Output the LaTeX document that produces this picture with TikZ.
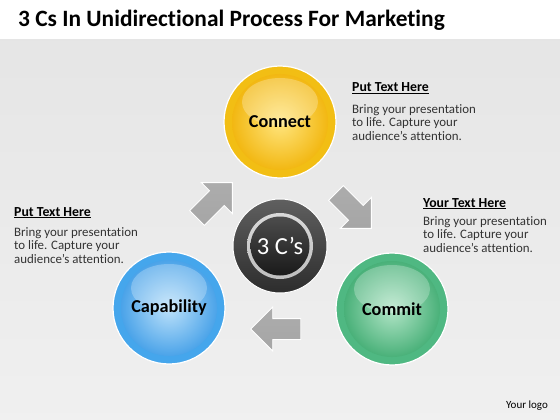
\documentclass[tikz,border=0pt]{standalone}
\usepackage{fontspec}
\setmainfont[Ligatures=NoCommon]{Carlito}
\usetikzlibrary{positioning, calc, shapes.arrows}
\tikzset{>=latex}

\definecolor{yelRim}{HTML}{F2BE14}
\definecolor{yelLt}{HTML}{FFE57E}
\definecolor{yelDk}{HTML}{F0B000}
\definecolor{grnRim}{HTML}{4FB882}
\definecolor{grnLt}{HTML}{B2E5C7}
\definecolor{grnDk}{HTML}{38A86C}
\definecolor{bluRim}{HTML}{45A6EC}
\definecolor{bluLt}{HTML}{BCE1FA}
\definecolor{bluDk}{HTML}{3899E6}
\definecolor{txtGray}{HTML}{333333}

\begin{document}
\begin{tikzpicture}
    [
        x=1pt, y=-1pt,
        ball/.style={circle, minimum size=112pt, inner sep=0pt, draw=white, line width=1.2pt, font=\bfseries\fontsize{18.2}{21}\selectfont},
        yel_ball/.style={ball, fill=yelRim, path picture={
            \shade[inner color=yelLt, outer color=yelDk] (path picture bounding box.center) circle (48pt);
            \fill[white, opacity=0.25] ($(path picture bounding box.center)+(0,-20)$) ellipse (38pt and 24pt);}},
        grn_ball/.style={ball, fill=grnRim, path picture={
            \shade[inner color=grnLt, outer color=grnDk] (path picture bounding box.center) circle (48pt);
            \fill[white, opacity=0.25] ($(path picture bounding box.center)+(0,-20)$) ellipse (38pt and 24pt);}},
        blu_ball/.style={ball, fill=bluRim, path picture={
            \shade[inner color=bluLt, outer color=bluDk] (path picture bounding box.center) circle (48pt);
            \fill[white, opacity=0.25] ($(path picture bounding box.center)+(0,-20)$) ellipse (38pt and 24pt);}},
        core_ball/.style={circle, minimum size=94pt, inner sep=0pt, draw=white, line width=1pt, top color=gray!75!black, bottom color=gray!35!black, text=white, font=\fontsize{24.5}{28}\selectfont, path picture={
            \shade[top color=gray!25, bottom color=gray!55] (path picture bounding box.center) circle (33pt);
            \shade[top color=gray!60!black, bottom color=black!90] (path picture bounding box.center) circle (29.5pt);}},
        flow_arrow/.style={single arrow, draw=white, line width=0.8pt, inner sep=0pt, inner ysep=10pt, minimum height=50pt, single arrow head extend=11.5pt, top color=gray!65, middle color=gray!15, bottom color=gray!70},
        head_text/.style={anchor=base west, inner sep=0pt, font=\bfseries\fontsize{13.8}{16}\selectfont},
        body_text/.style={anchor=base west, align=left, inner sep=0pt, text=txtGray, font=\fontsize{12.9}{13.8}\selectfont},
    ]

  % background
  \fill[white] (0,0) rectangle (560,420);
  \shade[top color=gray!20, middle color=gray!4, bottom color=gray!12] (0,40) rectangle (560,420);
  \useasboundingbox (0,0) rectangle (560,420);

  \node[anchor=base west, inner sep=0pt, font=\bfseries\fontsize{23.4}{27}\selectfont] (title) at (18,27) {3 Cs In Unidirectional Process For Marketing};

  \node[yel_ball] (connect) at (280,122) {Connect};
  \node[grn_ball] (commit) at (392,309) {Commit};
  \node[blu_ball] (capab) at (169,308) {Capability};
  \node[core_ball] (core) at (280,246) {3 C’s};

  \node[flow_arrow, rotate=45] (arrA) at (211,204) {};
  \node[flow_arrow, rotate=-45] (arrB) at (350,207) {};
  \node[flow_arrow, rotate=180] (arrC) at (281,329) {};

  % text blocks (base = last line)
  \node[head_text] (headA) at (352,92) {\underline{Put Text Here}};
  \node[body_text] (bodyA) at (352,140.6) {Bring your presentation\\to life. Capture your\\audience’s attention.};
  \node[head_text] (headB) at (423,207) {\underline{Your Text Here}};
  \node[body_text] (bodyB) at (423,252.6) {Bring your presentation\\to life. Capture your\\audience’s attention.};
  \node[head_text] (headC) at (14,216) {\underline{Put Text Here}};
  \node[body_text] (bodyC) at (14,263.6) {Bring your presentation\\to life. Capture your\\audience’s attention.};

  \node[anchor=base west, inner sep=0pt, font=\fontsize{11}{13}\selectfont] (logo) at (506,408) {Your logo};
\end{tikzpicture}
\end{document}
